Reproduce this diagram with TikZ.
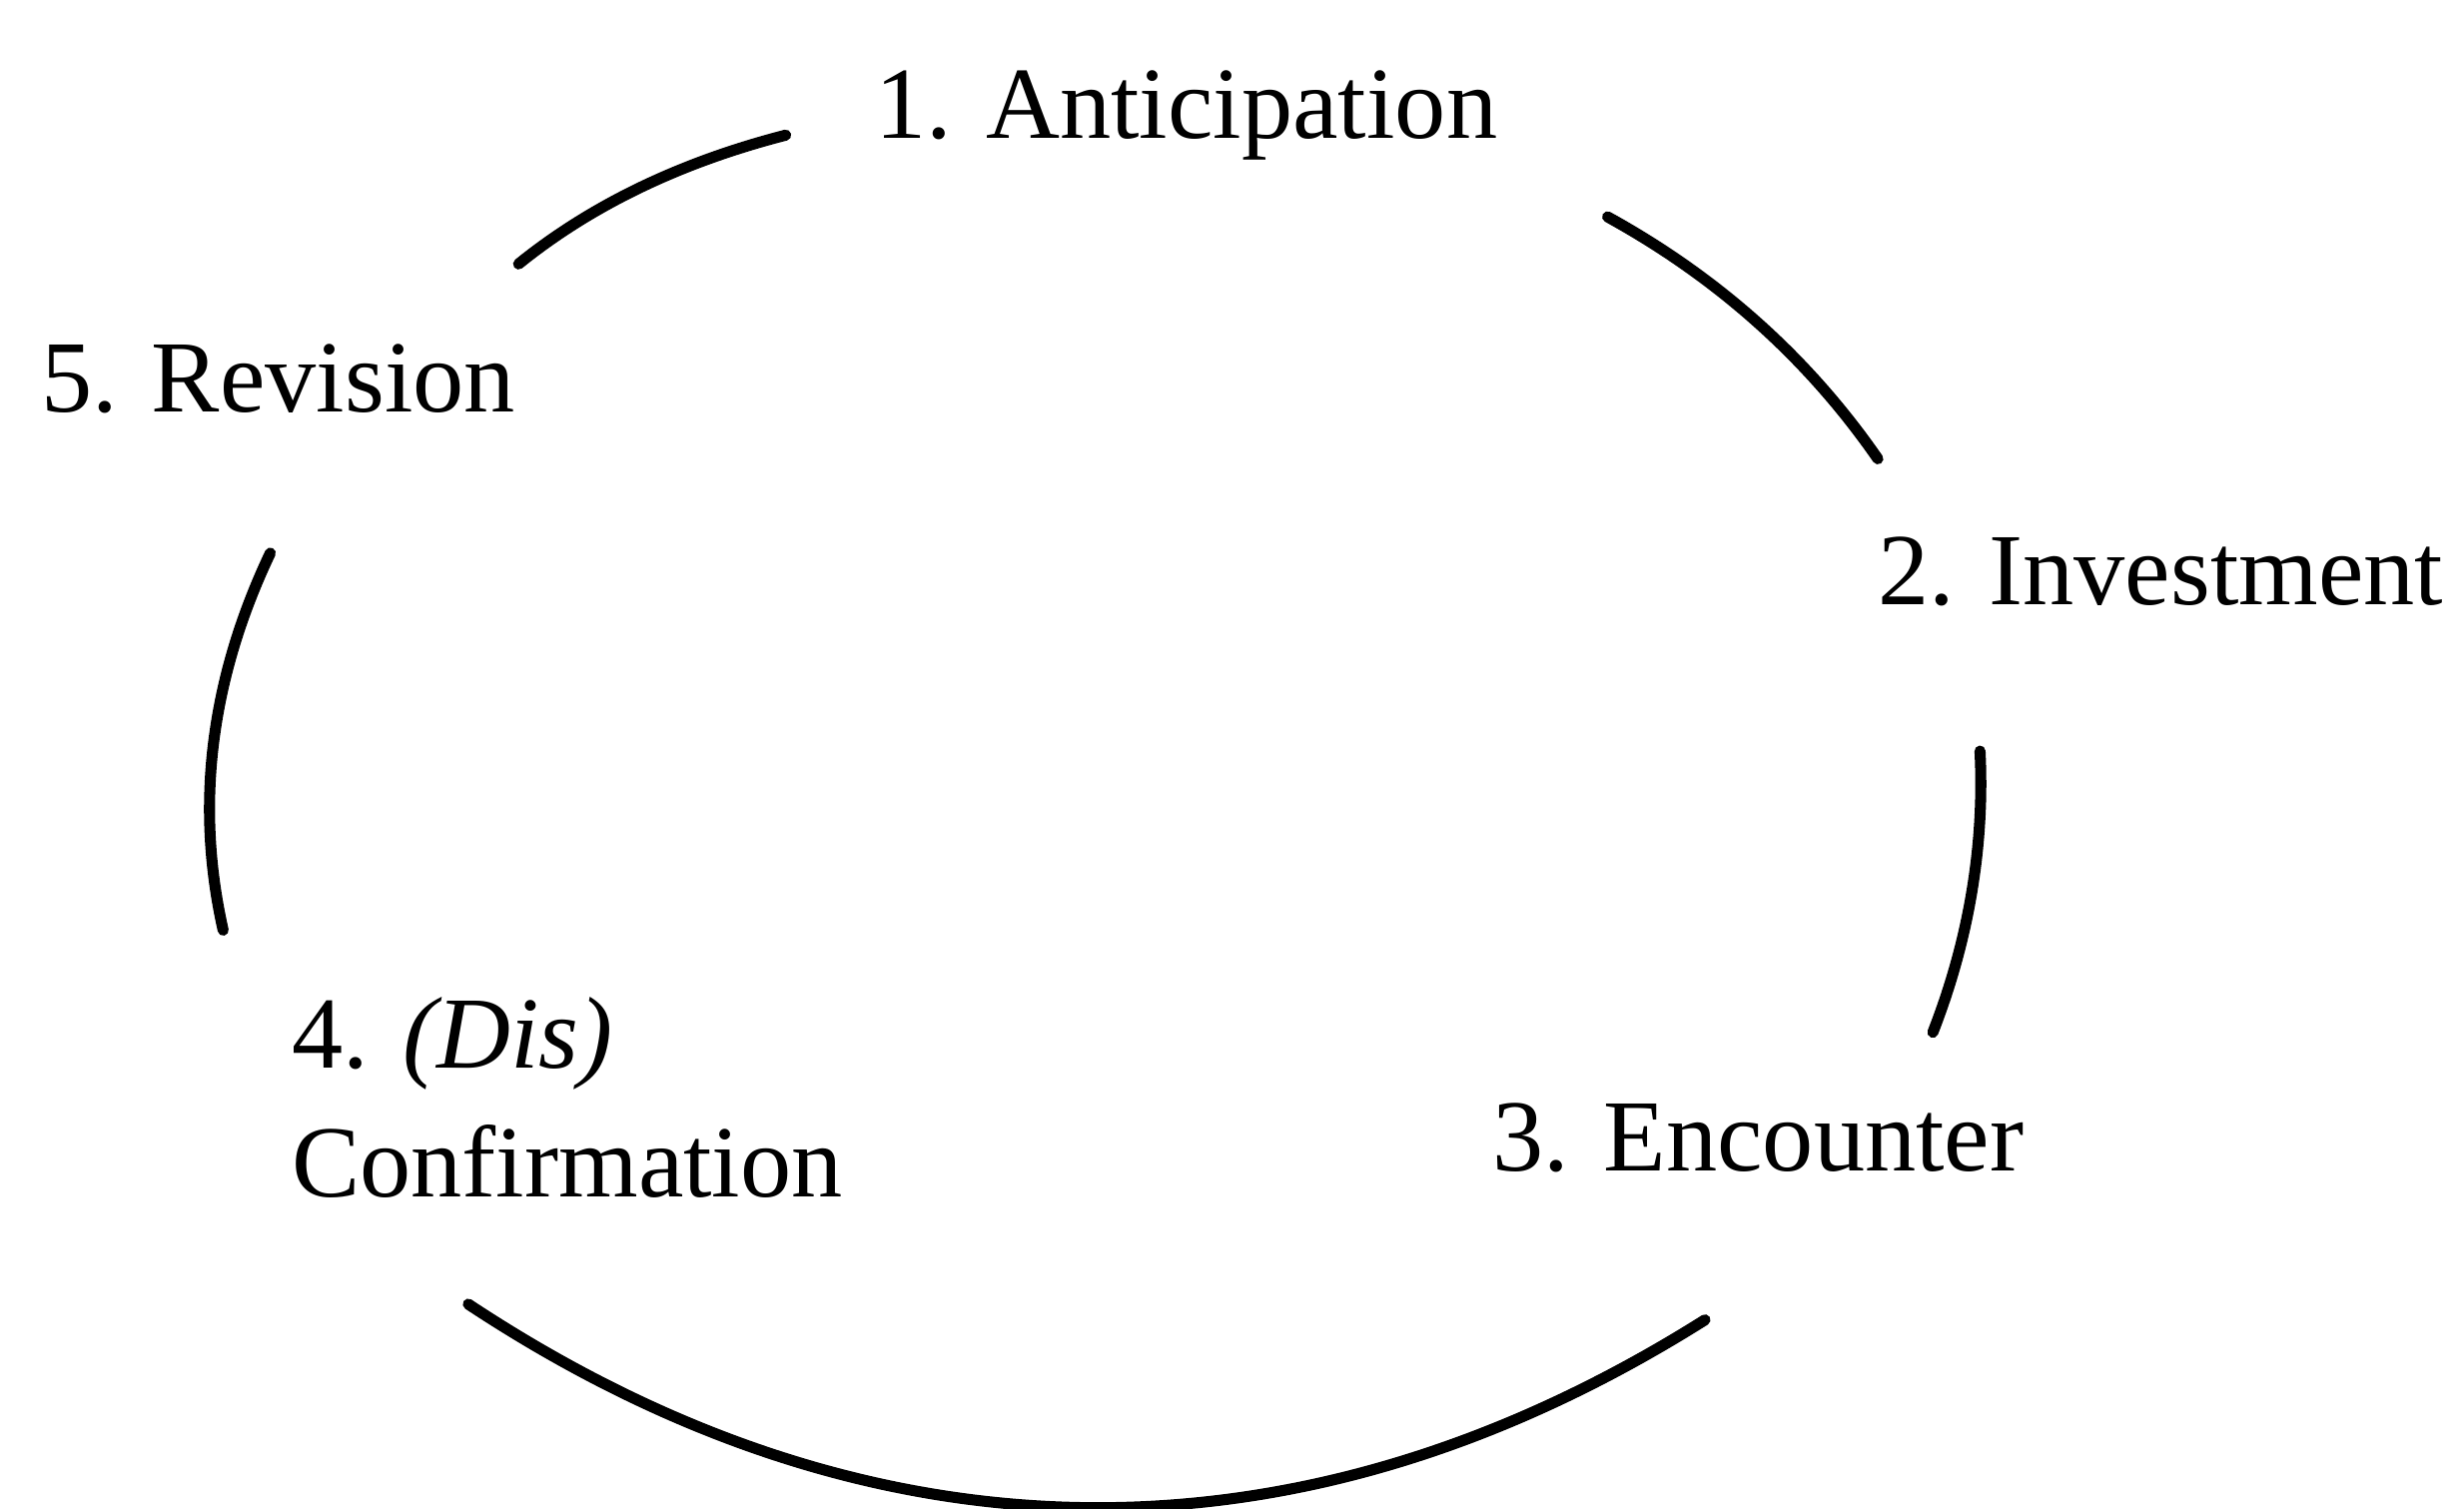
\documentclass[tikz,border=0pt]{standalone}
\usepackage{fontspec}
\setmainfont{Liberation Serif}
\begin{document}
\begin{tikzpicture}[x={(0.01cm,0)},y={(0,-0.01cm)},
  stage/.style={font=\fontsize{18.5}{23.3}\selectfont, inner sep=0pt, anchor=base},
  arc/.style={line width=2pt, line cap=round}]
\useasboundingbox (0,0) rectangle (1568,960);

% stage labels
\node[stage] (ant) at (755,88) {1. Anticipation};
\node[stage] (inv) at (1375,385) {2. Investment};
\node[stage] (enc) at (1119,745) {3. Encounter};
\node[stage, anchor=base west, align=left] (conf) at (185,762) {4. \textit{(Dis)}\\Confirmation};
\node[stage] (rev) at (177,262) {5. Revision};

% ends of the cycle segments
\coordinate (a1) at (1023,138); \coordinate (a2) at (1195,292);
\coordinate (b1) at (1260,478); \coordinate (b2) at (1230,657);
\coordinate (c1) at (1085,840); \coordinate (c2) at (298,830);
\coordinate (d1) at (142,592);  \coordinate (d2) at (172,352);
\coordinate (e1) at (330,168);  \coordinate (e2) at (500,86);

% cycle segments
\draw[arc] (a1) .. controls (1092,176) and (1150,227) .. (a2);
\draw[arc] (b1) .. controls (1263,538) and (1253,598) .. (b2);
\draw[arc] (c2) .. controls (555,1000) and (828,1002) .. (c1);
\draw[arc] (d2) .. controls (134,432) and (124,512) .. (d1);
\draw[arc] (e1) .. controls (377,130) and (434,103) .. (e2);
\end{tikzpicture}
\end{document}
